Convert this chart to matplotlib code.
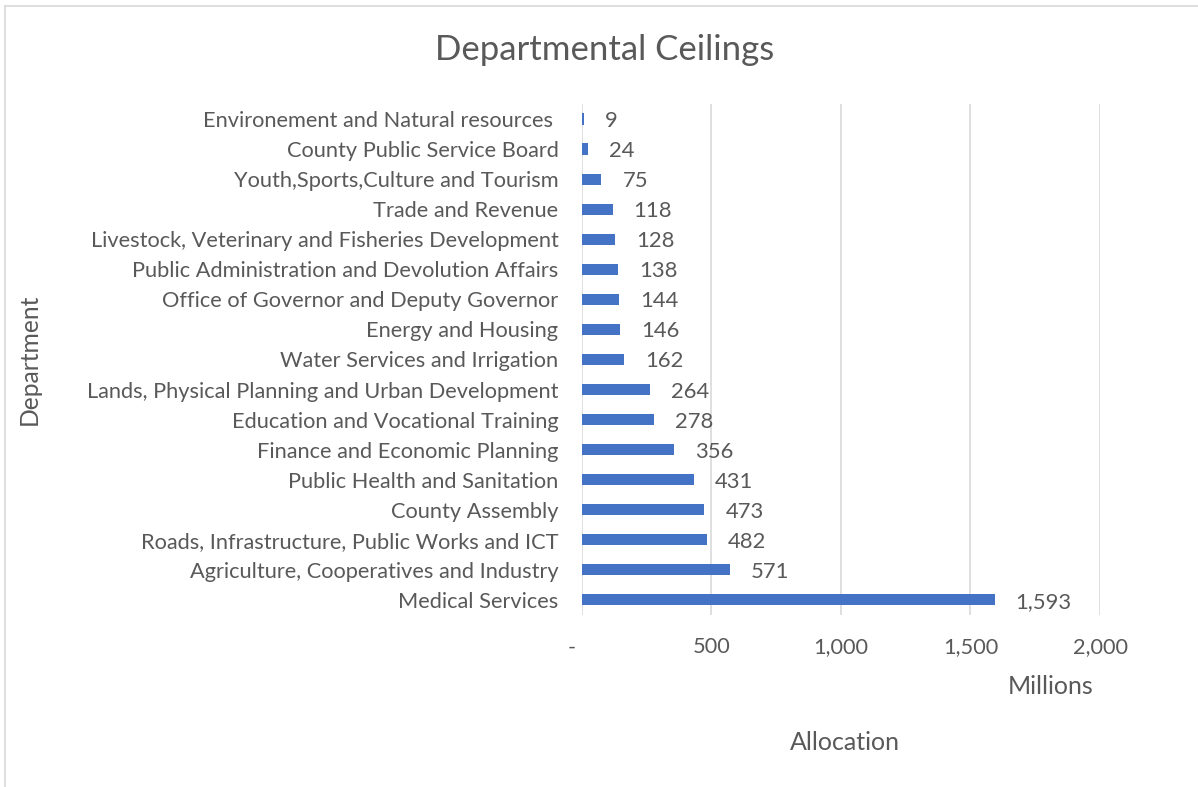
import matplotlib
matplotlib.use('Agg')
import matplotlib.pyplot as plt
import matplotlib.transforms as mtransforms
from matplotlib.lines import Line2D

# ---- data (millions) ----
departments = [
    "Medical Services",
    "Agriculture, Cooperatives and Industry",
    "Roads, Infrastructure, Public Works and ICT",
    "County Assembly",
    "Public Health and Sanitation",
    "Finance and Economic Planning",
    "Education and Vocational Training",
    "Lands, Physical Planning and Urban Development",
    "Water Services and Irrigation",
    "Energy and Housing",
    "Office of Governor and Deputy Governor",
    "Public Administration and Devolution Affairs",
    "Livestock, Veterinary and Fisheries Development",
    "Trade and Revenue",
    "Youth,Sports,Culture and Tourism",
    "County Public Service Board",
    "Environement and Natural resources ",
]
allocation = [1593, 571, 482, 473, 431, 356, 278, 264, 162, 146, 144, 138, 128, 118, 75, 24, 9]
xticks = [0, 500, 1000, 1500, 2000]
xtick_labels = ["-", "500", "1,000", "1,500", "2,000"]

txt = "#595959"
bar_color = "#4472C4"
plt.rcParams['font.family'] = ['Lato', 'DejaVu Sans']

fig = plt.figure(figsize=(11.98, 7.87), dpi=100)
ax = fig.add_axes([0.4858, 0.2186, 0.4324, 0.6493])

ypos = list(range(len(departments)))
ax.barh(ypos, allocation, height=0.37, color=bar_color, zorder=3)
for y, v in zip(ypos, allocation):
    ax.annotate(f"{v:,}", (v, y), xytext=(21, -2), textcoords='offset pixels',
                ha='left', va='center', fontsize=15.8, color=txt)

ax.set_xlim(0, 2000)
ax.set_ylim(-0.5, len(departments) - 0.5)
ax.set_xticks(xticks)
ax.set_xticklabels(xtick_labels)
ax.set_yticks(ypos)
ax.set_yticklabels(departments)
ax.tick_params(axis='both', length=0, labelsize=15.7, labelcolor=txt)
ax.tick_params(axis='x', pad=16)
ax.tick_params(axis='y', pad=17)
ax.grid(axis='x', color='#D9D9D9', linewidth=1.2, zorder=0)
for s in ax.spines.values():
    s.set_visible(False)

# accounting-style dash sits a little left of zero
dash = ax.get_xticklabels()[0]
dash.set_transform(dash.get_transform() + mtransforms.ScaledTranslation(-10 / 100, 0, fig.dpi_scale_trans))

fig.text(0.505, 0.936, "Departmental Ceilings", ha='center', va='center', fontsize=25, color=txt)
fig.text(0.877, 0.128, "Millions", ha='center', va='center', fontsize=18, color=txt)
fig.text(0.705, 0.057, "Allocation", ha='center', va='center', fontsize=18, color=txt)
fig.text(0.024, 0.543, "Department", ha='center', va='center', fontsize=17.7, color=txt, rotation=90)

# chart frame (top and left edges visible)
fig.add_artist(Line2D([5 / 1198, 1.0], [1 - 6 / 787] * 2, transform=fig.transFigure, color='#D9D9D9', lw=1.2))
fig.add_artist(Line2D([5 / 1198] * 2, [0, 1 - 6 / 787], transform=fig.transFigure, color='#D9D9D9', lw=1.2))

fig.savefig("out.png", dpi=100)
